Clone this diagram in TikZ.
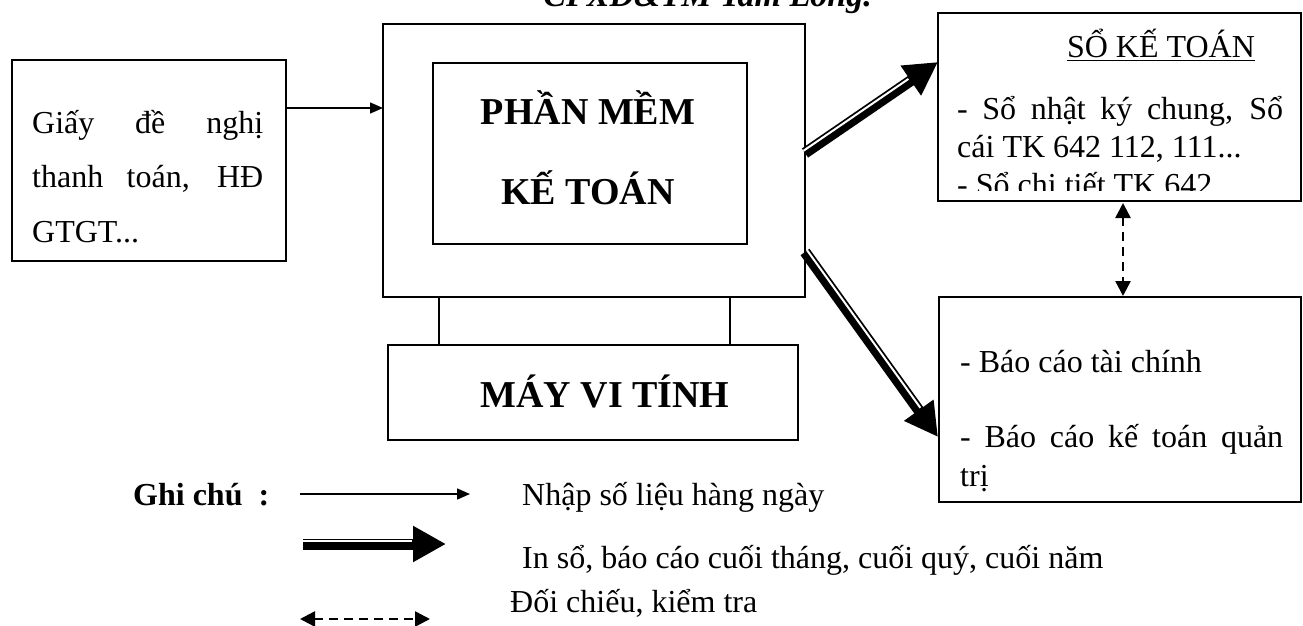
\documentclass[tikz,border=0pt]{standalone}
\usepackage{fontspec}
\setmainfont{Liberation Serif}
\usetikzlibrary{arrows.meta,calc}
\begin{document}
\begin{tikzpicture}[x=1pt,y=-1pt,
  frame/.style={draw, line width=1.5pt, inner sep=0pt},
  txt/.style={inner sep=0pt, anchor=base west, font=\fontsize{32}{38}\selectfont},
  btxt/.style={inner sep=0pt, anchor=base, font=\fontsize{38}{44}\selectfont\bfseries},
  feed/.style={line width=1.5pt, -{Triangle[length=13pt,width=11pt]}},
  check/.style={line width=2.5pt, dash pattern=on 9pt off 6pt,
    {Triangle[length=15pt,width=15pt]}-{Triangle[length=15pt,width=15pt]}},
  bigtip/.style={line width=11pt, -{Triangle[length=33pt,width=34pt]}},
  gap/.style={white, line width=2pt, shorten >=34pt},
]
\useasboundingbox (0,0) rectangle (1303,626);
\clip (0,0) rectangle (1303,626);

% heading line, cut at the top edge
\node[inner sep=0pt, anchor=base east, font=\fontsize{34}{40}\selectfont\bfseries\itshape]
  (heading) at (872,7) {CPXD\&TM Tam Long.};

% source documents
\node[frame, minimum width=274pt, minimum height=201pt] (src) at (149,160.5) {};
\node[txt] (s1) at (32,133) {\makebox[231pt][s]{Giấy đề nghị}};
\node[txt] (s2) at (32,187) {\makebox[231pt][s]{thanh toán, HĐ}};
\node[txt] (s3) at (32,242) {GTGT...};

% computer: screen, stand and base
\node[frame, minimum width=422pt, minimum height=273pt] (screen) at (594,160.5) {};
\node[frame, minimum width=314pt, minimum height=181pt] (soft) at (590,153.5) {};
\node[btxt] (soft1) at (588,124) {PHẦN MỀM};
\node[btxt] (soft2) at (588,204) {KẾ TOÁN};
\node[frame, minimum width=410pt, minimum height=95pt] (base) at (593,392.5) {};
\node[btxt] (base1) at (605,407) {MÁY VI TÍNH};
\draw[line width=1.5pt] (439,297) coordinate (legL1) -- (439,345) coordinate (legL2);
\draw[line width=1.5pt] (730,297) coordinate (legR1) -- (730,345) coordinate (legR2);

% ledgers
\node[frame, minimum width=363pt, minimum height=188pt] (ledger) at (1119.5,107) {};
\node[inner sep=0pt, anchor=base, font=\fontsize{32}{38}\selectfont]
  (ledgerT) at (1161,58) {\underline{SỔ KẾ TOÁN}};
\node[txt] (l1) at (957,119) {\makebox[326pt][s]{- Sổ nhật ký chung, Sổ}};
\node[txt] (l2) at (957,157) {cái TK 642 112, 111...};
\begin{scope}
  \clip (940,170) rectangle (1300,190);
  \node[txt] (l3) at (957,195) {- Sổ chi tiết TK 642};
\end{scope}

% reports
\node[frame, minimum width=362pt, minimum height=205pt] (rep) at (1120,399.5) {};
\node[txt] (r1) at (960,372) {- Báo cáo tài chính};
\node[txt] (r2) at (960,447) {\makebox[323pt][s]{- Báo cáo kế toán quản}};
\node[txt] (r3) at (960,486) {trị};

% connectors
\coordinate (inA) at (286,108);
\coordinate (inB) at (383,108);
\draw[feed] (inA) -- (inB);

\coordinate (upA) at (805,153);
\coordinate (upB) at (938,62);
\draw[bigtip] (upA) -- (upB);
\draw[gap] ($(upA)!2.7pt!90:(upB)$) -- ($(upB)!2.7pt!-90:(upA)$);

\coordinate (dnA) at (805,252);
\coordinate (dnB) at (938,437);
\draw[bigtip] (dnA) -- (dnB);
\draw[gap] ($(dnA)!2.7pt!90:(dnB)$) -- ($(dnB)!2.7pt!-90:(dnA)$);

\coordinate (ckA) at (1123,203);
\coordinate (ckB) at (1123,296);
\draw[check] (ckA) -- (ckB);

% key
\node[inner sep=0pt, anchor=base west, font=\fontsize{32}{38}\selectfont\bfseries]
  (key) at (133,505) {Ghi chú\ \ :};
\coordinate (k1A) at (300,494);
\coordinate (k1B) at (470,494);
\draw[feed] (k1A) -- (k1B);
\node[txt] (k1) at (522,505) {Nhập số liệu hàng ngày};

\coordinate (k2A) at (303,544);
\coordinate (k2B) at (446,544);
\draw[bigtip] (k2A) -- (k2B);
\draw[gap] ($(k2A)!2.7pt!90:(k2B)$) -- ($(k2B)!2.7pt!-90:(k2A)$);
\node[txt] (k2) at (522,568) {In sổ, báo cáo cuối tháng, cuối quý, cuối năm};

\coordinate (k3A) at (300,619);
\coordinate (k3B) at (430,619);
\draw[check] (k3A) -- (k3B);
\node[txt] (k3) at (510,612) {Đối chiếu, kiểm tra};
\end{tikzpicture}
\end{document}
